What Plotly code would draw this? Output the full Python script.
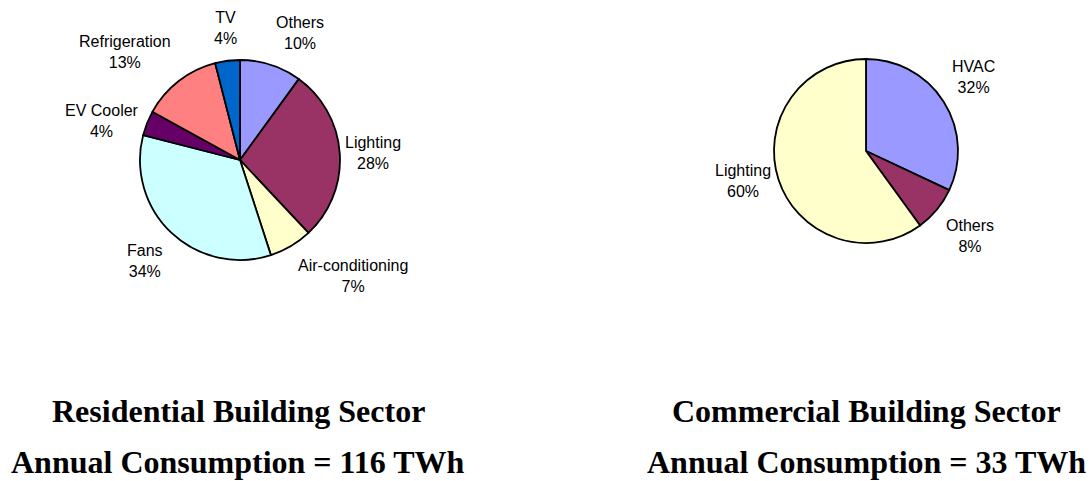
import math
import plotly.graph_objects as go

# ---------------- data ----------------
res_labels = ["Others", "Lighting", "Air-conditioning", "Fans", "EV Cooler", "Refrigeration", "TV"]
res_values = [10, 28, 7, 34, 4, 13, 4]
res_colors = ["#9999FF", "#993366", "#FFFFCC", "#CCFFFF", "#660066", "#FF8080", "#0066CC"]

com_labels = ["HVAC", "Others", "Lighting"]
com_values = [32, 8, 60]
com_colors = ["#9999FF", "#993366", "#FFFFCC"]

res_title = ["Residential Building Sector", "Annual Consumption = 116 TWh"]
com_title = ["Commercial Building Sector", "Annual Consumption = 33 TWh"]

# ---------------- layout ----------------
W, H = 1092, 481
LABEL_FONT = dict(family="Liberation Sans, Arial, sans-serif", size=16, color="#000000")
TITLE_FONT = dict(family="Liberation Serif, Times New Roman, serif", size=32, color="#000000")
TITLE_ROWS = [411, 462]

pies = [
    dict(labels=res_labels, values=res_values, colors=res_colors, cx=240, cy=160, r=100,
         title=res_title, tx=238),
    dict(labels=com_labels, values=com_values, colors=com_colors, cx=866, cy=151, r=92,
         title=com_title, tx=866),
]

fig = go.Figure()
annotations = []

for p in pies:
    cx, cy, r = p["cx"], p["cy"], p["r"]
    fig.add_trace(go.Pie(
        labels=p["labels"], values=p["values"], sort=False, direction="clockwise", rotation=0,
        marker=dict(colors=p["colors"], line=dict(color="#000000", width=1.8)),
        textinfo="none", hoverinfo="label+percent", showlegend=False,
        domain=dict(x=[(cx - r) / W, (cx + r) / W], y=[1 - (cy + r) / H, 1 - (cy - r) / H]),
    ))
    total = sum(p["values"])
    cum = 0
    for lab, v in zip(p["labels"], p["values"]):
        mid = (cum + v / 2) / total * 2 * math.pi
        cum += v
        dx, dy = math.sin(mid), -math.cos(mid)  # screen coords, y down
        R = r + 3 + 9 * abs(dy)
        px, py = cx + R * dx, cy + R * dy
        xa = "left" if dx > 0.25 else ("right" if dx < -0.25 else "center")
        ya = "bottom" if dy < -0.5 else ("top" if dy > 0.5 else "middle")
        annotations.append(dict(
            x=px / W, y=1 - py / H, xref="paper", yref="paper", xanchor=xa, yanchor=ya,
            text=f"{lab}<br>{round(v / total * 100)}%", showarrow=False, font=LABEL_FONT,
            align="center",
        ))
    for row, line in zip(TITLE_ROWS, p["title"]):
        annotations.append(dict(
            x=p["tx"] / W, y=1 - row / H, xref="paper", yref="paper",
            xanchor="center", yanchor="middle", text=f"<b>{line}</b>", showarrow=False,
            font=TITLE_FONT,
        ))

fig.update_layout(
    width=W, height=H, margin=dict(l=0, r=0, t=0, b=0),
    paper_bgcolor="#FFFFFF", plot_bgcolor="#FFFFFF",
    annotations=annotations,
)

fig.write_html(
    "out.html",
    config={"displayModeBar": False},
    post_script="document.body.style.margin='0';document.body.style.overflow='hidden';",
)
